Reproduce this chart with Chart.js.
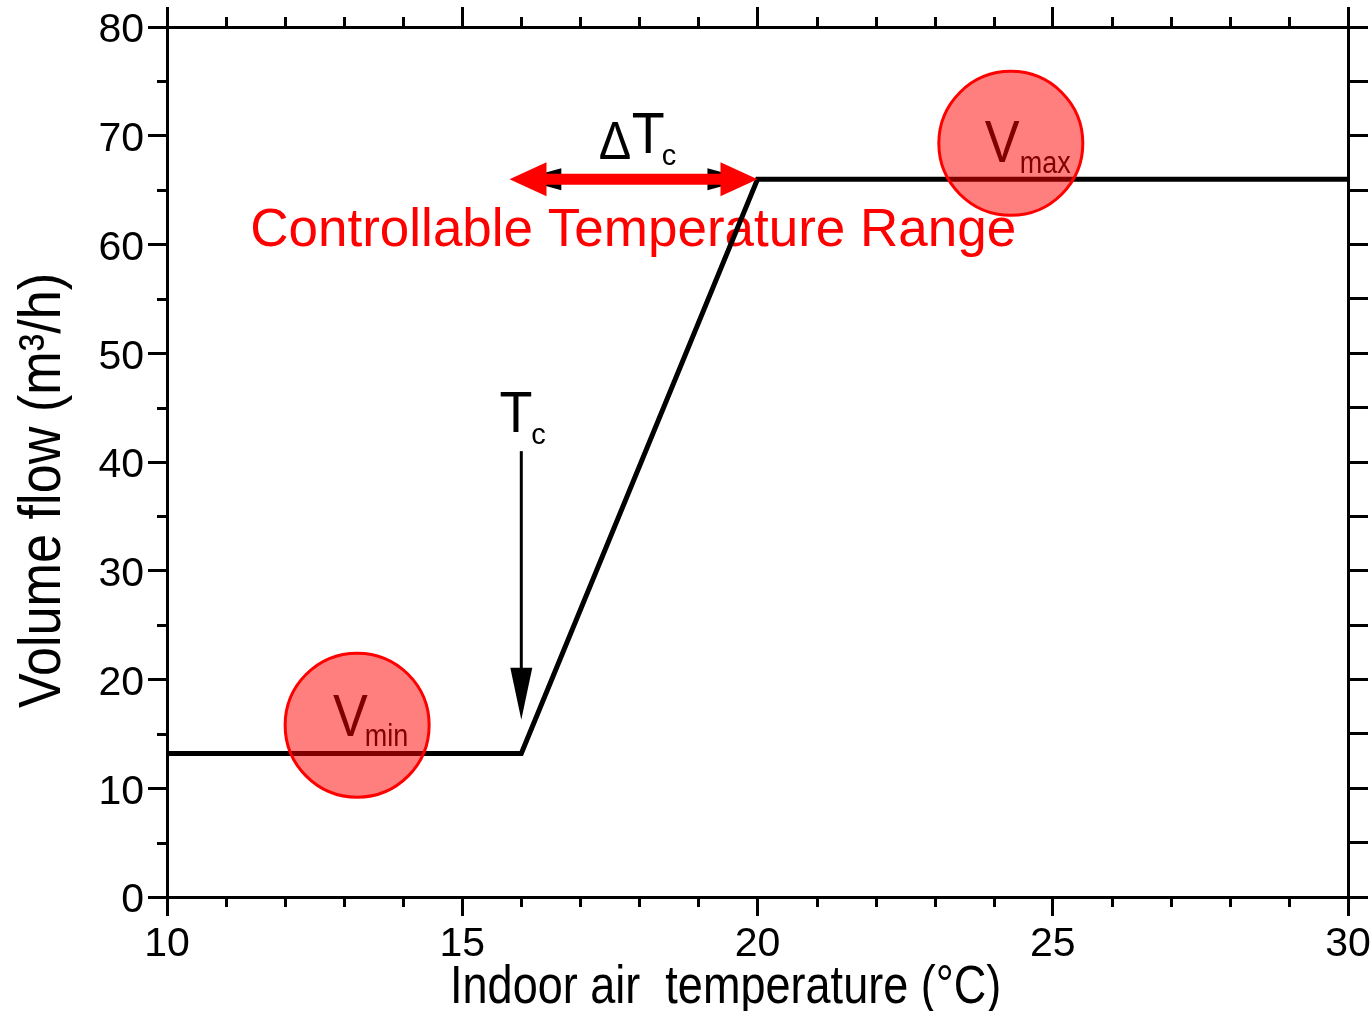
<!DOCTYPE html>
<html>
<head>
<meta charset="utf-8">
<title>Volume flow vs indoor air temperature</title>
<script src="https://cdn.jsdelivr.net/npm/chart.js@4.4.1/dist/chart.umd.min.js"></script>
<style>
  html, body { margin: 0; padding: 0; background: #fff; }
  #wrap { width: 1371px; height: 1011px; position: relative; }
</style>
</head>
<body>
<div id="wrap"><canvas id="chart"></canvas></div>
<script>
// control curve: volume flow against indoor air temperature
const tempC = [10, 16, 20, 30];
const flowRate = [13.2, 13.2, 66, 66];

// Vmin / Vmax markers
const zoneTemp = [13.22, 24.29];
const zoneFlow = [15.8, 69.3];
const zoneSub = ['min', 'max'];

// axis ranges
const xRange = [10, 30];
const xMajor = 5;
const xMinor = 1;
const yRange = [0, 80];
const yMajor = 10;
const yMinor = 5;

// arrows
const rangeTemp = [15.8, 20];   // controllable temperature range (red)
const rangeInner = [16, 19.83]; // black arrow beneath it
const rangeFlow = 66;
const tcTemp = 16;
const tcFlow = [41.0, 16.3];

const FONT = '"Liberation Sans", Arial, sans-serif';

function txt(ctx, s, x, y, size, color, sx) {
    ctx.save();
    ctx.translate(x, y);
    ctx.scale(sx || 1, 1);
    ctx.font = size + 'px ' + FONT;
    ctx.fillStyle = color;
    ctx.textAlign = 'left';
    ctx.textBaseline = 'alphabetic';
    ctx.fillText(s, 0, 0);
    ctx.restore();
}

function head(ctx, tx, ty, dx, dy, len, half) {
    // filled triangle, tip at (tx,ty), pointing along (dx,dy)
    const bx = tx - dx * len, by = ty - dy * len;
    ctx.beginPath();
    ctx.moveTo(tx, ty);
    ctx.lineTo(bx - dy * half, by + dx * half);
    ctx.lineTo(bx + dy * half, by - dx * half);
    ctx.closePath();
    ctx.fill();
}

const labelsPlugin = {
    id: 'labels',
    beforeDatasetsDraw(chart) {
        const { ctx, scales: { x, y } } = chart;
        // text that sits under the line and the circles
        txt(ctx, 'Controllable Temperature Range', x.getPixelForValue(11.41), y.getPixelForValue(59.86), 53, '#ff0000');
        txt(ctx, 'V', x.getPixelForValue(12.81), y.getPixelForValue(14.8), 60, '#000', 0.87);
        txt(ctx, zoneSub[0], x.getPixelForValue(13.35), y.getPixelForValue(13.89), 31, '#000', 0.87);
        txt(ctx, 'V', x.getPixelForValue(23.85), y.getPixelForValue(67.59), 60, '#000', 0.87);
        txt(ctx, zoneSub[1], x.getPixelForValue(24.44), y.getPixelForValue(66.57), 31, '#000', 0.87);
    },
    afterDatasetsDraw(chart) {
        const { ctx, scales: { x, y } } = chart;
        ctx.save();
        // black double arrow (mostly hidden)
        const ry = y.getPixelForValue(rangeFlow);
        let l = x.getPixelForValue(rangeInner[0]), r = x.getPixelForValue(rangeInner[1]);
        ctx.fillStyle = '#000';
        ctx.strokeStyle = '#000';
        ctx.lineWidth = 3;
        ctx.beginPath(); ctx.moveTo(l + 20, ry); ctx.lineTo(r - 20, ry); ctx.stroke();
        head(ctx, l, ry, -1, 0, 40, 11);
        head(ctx, r, ry, 1, 0, 40, 11);
        // red double arrow
        l = x.getPixelForValue(rangeTemp[0]); r = x.getPixelForValue(rangeTemp[1]);
        ctx.fillStyle = '#ff0000';
        ctx.strokeStyle = '#ff0000';
        ctx.lineWidth = 11;
        ctx.beginPath(); ctx.moveTo(l + 30, ry); ctx.lineTo(r - 30, ry); ctx.stroke();
        head(ctx, l, ry, -1, 0, 37, 17);
        head(ctx, r, ry, 1, 0, 37, 17);
        // Tc arrow
        const tx = x.getPixelForValue(tcTemp);
        const t0 = y.getPixelForValue(tcFlow[0]), t1 = y.getPixelForValue(tcFlow[1]);
        ctx.fillStyle = '#000';
        ctx.strokeStyle = '#000';
        ctx.lineWidth = 3;
        ctx.beginPath(); ctx.moveTo(tx, t0); ctx.lineTo(tx, t1 - 30); ctx.stroke();
        head(ctx, tx, t1, 0, 1, 52, 11);
        ctx.restore();

        // delta Tc and Tc labels
        txt(ctx, '\u0394', x.getPixelForValue(17.31), y.getPixelForValue(67.86), 54, '#000', 0.9);
        txt(ctx, 'T', x.getPixelForValue(17.87), y.getPixelForValue(68.41), 58, '#000', 0.93);
        txt(ctx, 'c', x.getPixelForValue(18.38), y.getPixelForValue(67.31), 29, '#000');
        txt(ctx, 'T', x.getPixelForValue(15.63), y.getPixelForValue(42.76), 58, '#000', 0.93);
        txt(ctx, 'c', x.getPixelForValue(16.17), y.getPixelForValue(41.66), 29, '#000');
    },
    afterDraw(chart) {
        const { ctx, chartArea: a, scales: { x, y } } = chart;
        ctx.save();
        ctx.strokeStyle = '#000';
        ctx.lineWidth = 3;
        ctx.beginPath();
        for (let v = xRange[0]; v <= xRange[1]; v += xMinor) {
            if (v % xMajor === 0) continue;
            const px = Math.round(x.getPixelForValue(v)) + 0.5;
            ctx.moveTo(px, a.bottom); ctx.lineTo(px, a.bottom + 10);
            ctx.moveTo(px, a.top); ctx.lineTo(px, a.top - 10);
        }
        for (let v = yRange[0]; v <= yRange[1]; v += yMinor) {
            if (v % yMajor === 0) continue;
            const py = Math.round(y.getPixelForValue(v)) + 0.5;
            ctx.moveTo(a.left, py); ctx.lineTo(a.left - 10, py);
        }
        ctx.stroke();
        ctx.restore();

        // axis titles
        txt(ctx, 'Indoor air  temperature (\u00B0C)', 450, 1003, 53, '#000', 0.85);
        ctx.save();
        ctx.translate(60, 708);
        ctx.rotate(-Math.PI / 2);
        txt(ctx, 'Volume flow (m\u00B3/h)', 0, 0, 60, '#000', 0.87);
        ctx.restore();
    }
};

const tickFont = { family: FONT, size: 41 };
const gridOpts = len => ({
    drawOnChartArea: false, drawTicks: true, tickLength: len,
    tickColor: '#000', tickWidth: 3, lineWidth: 3, color: '#000'
});
const border = { display: true, color: '#000', width: 3 };
const fix = (w, h) => s => {
    if (w != null) s.width = w;
    if (h != null) s.height = h;
    s.paddingLeft = s.paddingRight = s.paddingTop = s.paddingBottom = 0;
};

new Chart(document.getElementById('chart'), {
    type: 'line',
    data: {
        datasets: [
            {
                type: 'bubble',
                data: zoneTemp.map((t, i) => ({ x: t, y: zoneFlow[i], r: 72 })),
                backgroundColor: 'rgba(255,0,0,0.5)',
                borderColor: '#ff0000',
                borderWidth: 3,
                order: 0
            },
            {
                type: 'line',
                data: tempC.map((t, i) => ({ x: t, y: flowRate[i] })),
                borderColor: '#000',
                borderWidth: 5,
                pointRadius: 0,
                tension: 0,
                fill: false,
                order: 1
            }
        ]
    },
    options: {
        responsive: true,
        maintainAspectRatio: false,
        animation: false,
        events: [],
        layout: { padding: 0, autoPadding: false },
        plugins: { legend: { display: false }, tooltip: { enabled: false } },
        scales: {
            x: {
                type: 'linear', position: 'bottom', min: xRange[0], max: xRange[1],
                ticks: { stepSize: xMajor, color: '#000', font: tickFont, padding: 4, maxRotation: 0 },
                grid: gridOpts(19), border, afterFit: fix(null, 114)
            },
            x2: {
                type: 'linear', position: 'top', min: xRange[0], max: xRange[1],
                ticks: { stepSize: xMajor, display: false },
                grid: gridOpts(20), border, afterFit: fix(null, 27)
            },
            y: {
                type: 'linear', position: 'left', min: yRange[0], max: yRange[1],
                ticks: { stepSize: yMajor, color: '#000', font: tickFont, padding: 4, labelOffset: 4 },
                grid: gridOpts(19), border, afterFit: fix(167, null)
            },
            y2: {
                type: 'linear', position: 'right', min: yRange[0], max: yRange[1],
                ticks: { stepSize: yMinor, display: false },
                grid: gridOpts(20), border, afterFit: fix(23, null)
            }
        }
    },
    plugins: [labelsPlugin]
});
</script>
</body>
</html>
